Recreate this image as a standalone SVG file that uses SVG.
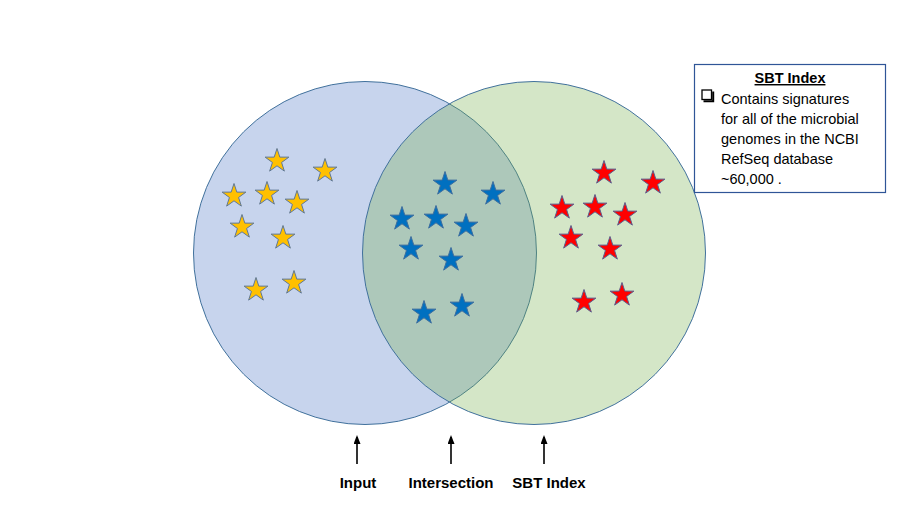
<svg xmlns="http://www.w3.org/2000/svg" width="900" height="506" viewBox="0 0 900 506">
<style>
.venn{stroke:#41719C;stroke-width:1}
.s-y{fill:#FFC000;stroke:#5F7896;stroke-width:1}
.s-b{fill:#0070C0;stroke:#3E6E9E;stroke-width:1}
.s-r{fill:#FF0000;stroke:#5B5F8E;stroke-width:1}
.arrow{stroke:#000;stroke-width:1.6;fill:none}
.lbl{font-family:"Liberation Sans",Arial,sans-serif;font-weight:bold;font-size:15px;fill:#000;text-anchor:middle}
.box{fill:#fff;stroke:#2F5597;stroke-width:1.2}
.bt{font-family:"Liberation Sans",Arial,sans-serif;font-size:14.5px;fill:#000}
</style>
<defs>
<path id="star" d="M0,-12.5 L2.82,-3.88 L11.89,-3.86 L4.57,1.48 L7.35,10.11 L0,4.8 L-7.35,10.11 L-4.57,1.48 L-11.89,-3.86 L-2.82,-3.88 Z"/>
<marker id="ah" markerWidth="9" markerHeight="7" refX="7" refY="3.5" orient="auto" markerUnits="userSpaceOnUse" viewBox="0 0 9 7">
<path d="M0,0 L9,3.5 L0,7 Z" fill="#000"/>
</marker>
</defs>
<rect width="900" height="506" fill="#fff"/>
<g id="circle-input"><circle class="venn" cx="365" cy="253" r="171.5" fill="#4472C4" fill-opacity="0.3"/></g>
<g id="circle-sbt"><circle class="venn" cx="534" cy="253" r="171.5" fill="#70AD47" fill-opacity="0.3"/></g>
<g id="stars-input">
<use href="#star" class="s-y" x="277" y="161"/>
<use href="#star" class="s-y" x="325" y="171"/>
<use href="#star" class="s-y" x="234" y="196"/>
<use href="#star" class="s-y" x="267" y="194"/>
<use href="#star" class="s-y" x="297" y="203"/>
<use href="#star" class="s-y" x="242" y="227"/>
<use href="#star" class="s-y" x="283" y="238"/>
<use href="#star" class="s-y" x="256" y="290"/>
<use href="#star" class="s-y" x="294" y="283"/>
</g>
<g id="stars-intersection">
<use href="#star" class="s-b" x="445" y="184"/>
<use href="#star" class="s-b" x="493" y="194"/>
<use href="#star" class="s-b" x="402" y="219"/>
<use href="#star" class="s-b" x="436" y="218"/>
<use href="#star" class="s-b" x="466" y="226"/>
<use href="#star" class="s-b" x="411" y="249"/>
<use href="#star" class="s-b" x="451" y="260"/>
<use href="#star" class="s-b" x="424" y="313"/>
<use href="#star" class="s-b" x="462" y="306"/>
</g>
<g id="stars-sbt">
<use href="#star" class="s-r" x="604" y="173"/>
<use href="#star" class="s-r" x="653" y="183"/>
<use href="#star" class="s-r" x="562" y="208"/>
<use href="#star" class="s-r" x="595" y="207"/>
<use href="#star" class="s-r" x="625" y="215"/>
<use href="#star" class="s-r" x="571" y="238"/>
<use href="#star" class="s-r" x="610" y="249"/>
<use href="#star" class="s-r" x="584" y="302"/>
<use href="#star" class="s-r" x="622" y="295"/>
</g>
<g id="info-box">
<rect class="box" x="694.5" y="64.5" width="191" height="128"/>
<text class="bt" x="790" y="83" text-anchor="middle" font-weight="bold" text-decoration="underline">SBT Index</text>
<rect x="702" y="90" width="9.5" height="9.5" fill="none" stroke="#000" stroke-width="1.3"/>
<path d="M703.5,101.2 H713.2 V91.5" fill="none" stroke="#000" stroke-width="2"/>
<text class="bt" x="721" y="104">Contains signatures</text>
<text class="bt" x="721" y="124">for all of the microbial</text>
<text class="bt" x="721" y="144">genomes in the NCBI</text>
<text class="bt" x="721" y="164">RefSeq database</text>
<text class="bt" x="721" y="184">~60,000 .</text>
</g>
<g id="connectors">
<line class="arrow" x1="357" y1="464" x2="357" y2="437" marker-end="url(#ah)"/>
<line class="arrow" x1="451" y1="464" x2="451" y2="437" marker-end="url(#ah)"/>
<line class="arrow" x1="544" y1="464" x2="544" y2="437" marker-end="url(#ah)"/>
</g>
<g id="labels">
<text class="lbl" x="358" y="488">Input</text>
<text class="lbl" x="451" y="488">Intersection</text>
<text class="lbl" x="549" y="488">SBT Index</text>
</g>
</svg>
